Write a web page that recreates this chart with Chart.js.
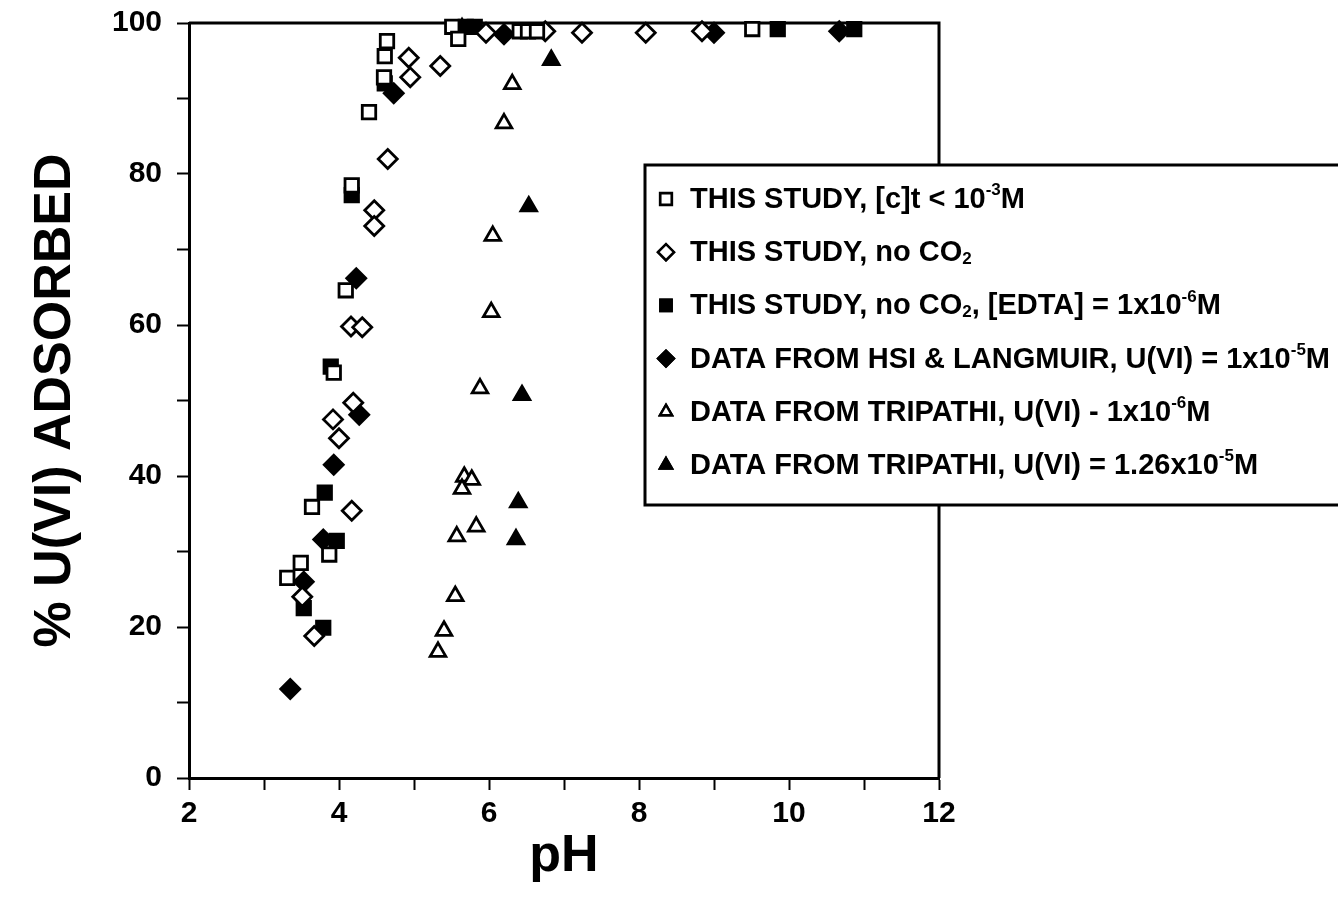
<!DOCTYPE html>
<html>
<head>
<meta charset="utf-8">
<script src="https://cdn.jsdelivr.net/npm/chart.js@4.4.1/dist/chart.umd.min.js"></script>
<style>
  html, body { margin: 0; padding: 0; background: #fff; }
  #wrap { width: 1338px; height: 910px; }
</style>
</head>
<body>
<div id="wrap"><canvas id="adsChart" width="1338" height="910"></canvas></div>
<script>
// this study, [c]t < 1e-3 M  (open squares)
const openSqPH  = [4.64, 4.61, 4.60, 4.40, 4.17, 4.09, 3.93, 3.64, 3.87, 3.49, 3.31, 5.51, 5.59, 6.41, 6.52, 6.64, 9.51];
const openSqAds = [97.6, 95.6, 92.8, 88.2, 78.5, 64.6, 53.7, 35.9, 29.6, 28.5, 26.5, 99.5, 97.9, 98.9, 98.9, 98.9, 99.2];

// this study, no CO2  (open diamonds)
const openDiaPH  = [4.93, 4.95, 5.35, 4.65, 4.47, 4.47, 4.16, 4.31, 4.19, 3.92, 4.00, 4.17, 3.51, 3.67, 5.96, 6.75, 7.24, 8.09, 8.84];
const openDiaAds = [95.4, 92.8, 94.3, 82.0, 75.2, 73.1, 59.8, 59.7, 49.7, 47.5, 45.0, 35.4, 24.0, 18.8, 98.7, 98.9, 98.7, 98.7, 98.9];

// this study, no CO2, [EDTA] = 1e-6 M  (filled squares)
const edtaPH  = [4.61, 4.17, 3.89, 3.81, 3.97, 3.53, 3.79, 5.69, 5.81, 9.85, 10.87];
const edtaAds = [92.0, 77.2, 54.5, 37.8, 31.4, 22.5, 19.9, 99.5, 99.5, 99.2, 99.2];

// Hsi & Langmuir, U(VI) = 1e-5 M  (filled diamonds)
const hsiPH  = [4.73, 4.23, 4.27, 3.93, 3.79, 3.53, 3.35, 6.20, 9.00, 10.67];
const hsiAds = [90.7, 66.2, 48.1, 41.5, 31.6, 26.0, 11.8, 98.5, 98.7, 98.9];

// Tripathi, U(VI) = 1e-6 M  (open triangles)
const tri6PH  = [6.31, 6.20, 6.05, 6.03, 5.88, 5.67, 5.77, 5.64, 5.83, 5.57, 5.55, 5.40, 5.32, 5.64];
const tri6Ads = [91.9, 86.7, 71.8, 61.7, 51.6, 39.9, 39.5, 38.3, 33.3, 32.0, 24.1, 19.5, 16.7, 99.3];

// Tripathi, U(VI) = 1.26e-5 M  (filled triangles)
const tri5PH  = [6.83, 6.53, 6.44, 6.39, 6.36];
const tri5Ads = [95.1, 75.7, 50.7, 36.5, 31.6];

// legend lines, superscripts / subscripts split out
const legendText = [
  [['THIS STUDY, [c]t < 10'], ['-3', 'sup'], ['M']],
  [['THIS STUDY, no CO'], ['2', 'sub']],
  [['THIS STUDY, no CO'], ['2', 'sub'], [', [EDTA] = 1x10'], ['-6', 'sup'], ['M']],
  [['DATA FROM HSI & LANGMUIR, U(VI) = 1x10'], ['-5', 'sup'], ['M']],
  [['DATA FROM TRIPATHI, U(VI) - 1x10'], ['-6', 'sup'], ['M']],
  [['DATA FROM TRIPATHI, U(VI) = 1.26x10'], ['-5', 'sup'], ['M']]
];

const FONT = "'Liberation Sans', Arial, Helvetica, sans-serif";

function pts(xs, ys) {
  return xs.map((x, i) => ({ x: x, y: ys[i] }));
}

function series(label, xs, ys, style, filled, radius) {
  return {
    label: label,
    data: pts(xs, ys),
    pointStyle: style,
    pointRadius: radius,
    pointHoverRadius: radius,
    pointBackgroundColor: filled ? '#000' : '#fff',
    pointBorderColor: '#000',
    pointBorderWidth: 2.8,
    showLine: false,
    clip: false
  };
}

const datasets = [
  series('THIS STUDY, [c]t < 10-3M', openSqPH, openSqAds, 'rect', false, 9.5),
  series('THIS STUDY, no CO2', openDiaPH, openDiaAds, 'rectRot', false, 9.5),
  series('THIS STUDY, no CO2, [EDTA] = 1x10-6M', edtaPH, edtaAds, 'rect', true, 9.5),
  series('DATA FROM HSI & LANGMUIR, U(VI) = 1x10-5M', hsiPH, hsiAds, 'rectRot', true, 9.5),
  series('DATA FROM TRIPATHI, U(VI) - 1x10-6M', tri6PH, tri6Ads, 'triangle', false, 9),
  series('DATA FROM TRIPATHI, U(VI) = 1.26x10-5M', tri5PH, tri5Ads, 'triangle', true, 9)
];

// top and right edges of the plot box
const frame = {
  id: 'frame',
  beforeDatasetsDraw(chart) {
    const { ctx, chartArea: a } = chart;
    ctx.save();
    ctx.strokeStyle = '#000';
    ctx.lineWidth = 3;
    ctx.beginPath();
    ctx.moveTo(a.left, a.top);
    ctx.lineTo(a.right, a.top);
    ctx.lineTo(a.right, a.bottom);
    ctx.stroke();
    ctx.restore();
  }
};

function drawRich(ctx, parts, x, y, size) {
  let cx = x;
  parts.forEach(p => {
    const kind = p[1];
    const s = kind ? Math.round(size * 0.6) : size;
    ctx.font = 'bold ' + s + 'px ' + FONT;
    let dy = 0;
    if (kind === 'sup') dy = -size * 0.33;
    if (kind === 'sub') dy = size * 0.22;
    ctx.fillText(p[0], cx, y + dy);
    cx += ctx.measureText(p[0]).width;
  });
}

// boxed legend sitting over the right side of the plot
const boxLegend = {
  id: 'boxLegend',
  afterDraw(chart) {
    const ctx = chart.ctx;
    const left = 645, top = 165, right = 1350, bottom = 505;
    ctx.save();
    ctx.fillStyle = '#fff';
    ctx.fillRect(left, top, right - left, bottom - top);
    ctx.strokeStyle = '#000';
    ctx.lineWidth = 3;
    ctx.strokeRect(left, top, right - left, bottom - top);

    ctx.textBaseline = 'middle';
    chart.data.datasets.forEach((ds, i) => {
      const y = 199 + i * 53.2;
      Chart.helpers.drawPoint(ctx, {
        pointStyle: ds.pointStyle,
        radius: ds.pointStyle === 'triangle' ? 7 : 8,
        borderWidth: 2.4,
        rotation: 0
      }, 666, y);
      ctx.fillStyle = ds.pointBackgroundColor;
      ctx.strokeStyle = '#000';
      ctx.lineWidth = 2.4;
      ctx.fill();
      ctx.stroke();
      ctx.fillStyle = '#000';
      drawRich(ctx, legendText[i], 690, y + 1, 29);
    });
    ctx.restore();
  }
};

const chart = new Chart(document.getElementById('adsChart'), {
  type: 'scatter',
  data: { datasets: datasets },
  plugins: [frame, boxLegend],
  options: {
    responsive: false,
    animation: false,
    events: [],
    layout: { autoPadding: false, padding: { top: 23, right: 399, bottom: 0, left: 0 } },
    plugins: {
      legend: { display: false },
      tooltip: { enabled: false }
    },
    scales: {
      x: {
        type: 'linear',
        min: 2,
        max: 12,
        ticks: {
          stepSize: 1,
          autoSkip: false,
          maxRotation: 0,
          padding: 6,
          color: '#000',
          font: { family: FONT, size: 30, weight: 'bold' },
          callback: v => (v % 2 === 0 ? v : '')
        },
        grid: { drawOnChartArea: false, drawTicks: true, tickLength: 12, tickWidth: 2, color: '#000' },
        border: { display: true, color: '#000', width: 3 },
        title: {
          display: true,
          text: 'pH',
          color: '#000',
          font: { family: FONT, size: 52, weight: 'bold' },
          padding: { top: 0, bottom: 22 }
        },
        afterFit(scale) {
          scale.height = 132;
          scale.paddingLeft = 0;
          scale.paddingRight = 0;
        }
      },
      y: {
        min: 0,
        max: 100,
        ticks: {
          stepSize: 10,
          padding: 15,
          color: '#000',
          font: { family: FONT, size: 30, weight: 'bold' },
          callback: v => (v % 20 === 0 ? v : '')
        },
        grid: { drawOnChartArea: false, drawTicks: true, tickLength: 12, tickWidth: 2, color: '#000' },
        border: { display: true, color: '#000', width: 3 },
        title: {
          display: true,
          text: '% U(VI) ADSORBED',
          color: '#000',
          font: { family: FONT, size: 52, weight: 'bold' },
          padding: { top: 24, bottom: 0 }
        },
        afterFit(scale) {
          scale.width = 189;
          scale.paddingTop = 0;
          scale.paddingBottom = 0;
        }
      }
    }
  }
});
</script>
</body>
</html>
